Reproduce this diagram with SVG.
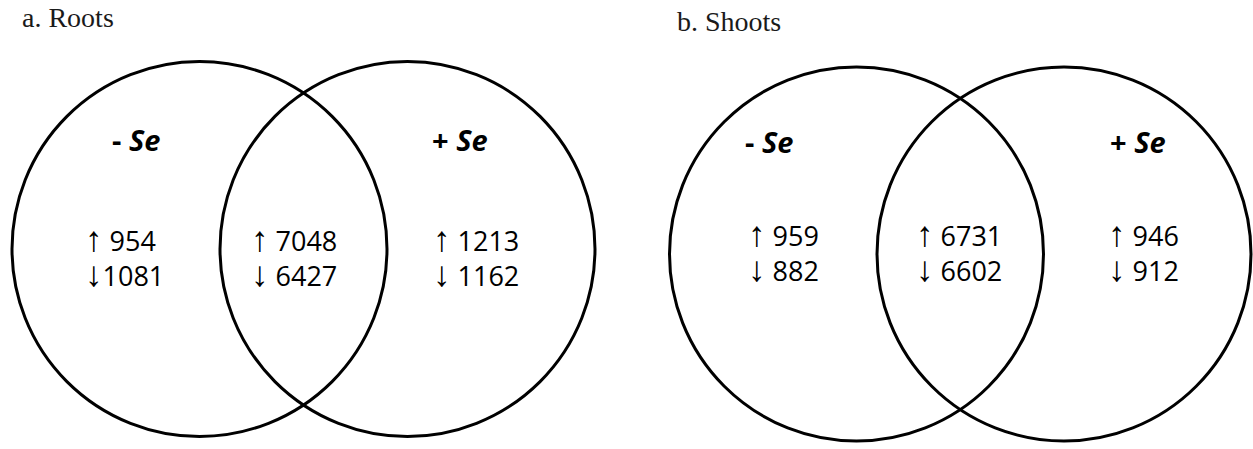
<svg xmlns="http://www.w3.org/2000/svg" width="1253" height="449" viewBox="0 0 1253 449">
<style>
.c{fill:none;stroke:#000;stroke-width:3}
.t{font-family:"Liberation Serif","Times New Roman",serif;font-size:28px;fill:#1a1a1a}
.se{font-family:"Open Sans","Noto Sans",sans-serif;font-size:29px;font-weight:bold;fill:#000}
.n{font-family:"Open Sans","Noto Sans","DejaVu Sans",sans-serif;font-size:27px;fill:#000}
.a{font-family:"Liberation Sans","DejaVu Sans",sans-serif;font-weight:normal;font-size:35px}
</style>
<rect width="1253" height="449" fill="#fff"/>
<text class="t" x="22" y="27">a. Roots</text>
<text class="t" x="677" y="31">b. Shoots</text>
<g id="roots-minus"><circle class="c" cx="199.5" cy="249" r="187.5"/></g>
<g id="roots-plus"><circle class="c" cx="407.5" cy="249" r="187.5"/></g>
<g id="shoots-minus"><circle class="c" cx="856.5" cy="254" r="187"/></g>
<g id="shoots-plus"><circle class="c" cx="1064" cy="254" r="187"/></g>
<g id="labels">
<text class="se" x="112" y="151">- <tspan font-style="italic">Se</tspan></text>
<text class="se" x="432" y="151">+ <tspan font-style="italic">Se</tspan></text>
<text class="se" x="745" y="153">- <tspan font-style="italic">Se</tspan></text>
<text class="se" x="1110" y="153">+ <tspan font-style="italic">Se</tspan></text>
</g>
<g id="counts">
<text class="n" x="85" y="251"><tspan class="a">↑</tspan> 954</text>
<text class="n" x="85" y="286"><tspan class="a">↓</tspan>1081</text>
<text class="n" x="251" y="251"><tspan class="a">↑</tspan> 7048</text>
<text class="n" x="251" y="286"><tspan class="a">↓</tspan> 6427</text>
<text class="n" x="433" y="251"><tspan class="a">↑</tspan> 1213</text>
<text class="n" x="433" y="286"><tspan class="a">↓</tspan> 1162</text>
<text class="n" x="748" y="246"><tspan class="a">↑</tspan> 959</text>
<text class="n" x="748" y="281"><tspan class="a">↓</tspan> 882</text>
<text class="n" x="916" y="246"><tspan class="a">↑</tspan> 6731</text>
<text class="n" x="916" y="281"><tspan class="a">↓</tspan> 6602</text>
<text class="n" x="1108" y="246"><tspan class="a">↑</tspan> 946</text>
<text class="n" x="1108" y="281"><tspan class="a">↓</tspan> 912</text>
</g>
<g id="connectors"/>
</svg>
